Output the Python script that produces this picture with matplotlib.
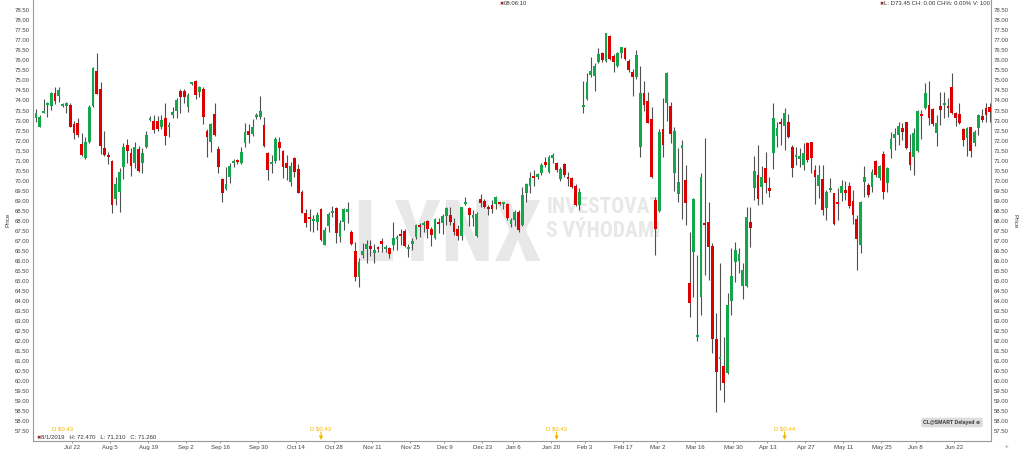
import numpy as np
import pandas as pd
import matplotlib
matplotlib.use("Agg")
import matplotlib.pyplot as plt
from matplotlib import font_manager as fm
from matplotlib.transforms import blended_transform_factory

# ---------------- data (daily OHLC) ----------------
opens = [
    73.11, 72.69, 73.40, 73.76, 73.72, 74.39, 74.22, 73.70, 73.72, 73.76,
    72.83, 72.86, 71.83, 71.13, 71.94, 73.72, 75.49, 74.59, 71.61, 71.28,
    70.98, 69.07, 69.45, 70.70, 71.80, 71.40, 70.86, 71.56, 70.86, 71.70,
    73.02, 72.96, 72.96, 72.66, 73.11, 72.66, 73.28, 73.49, 74.49, 74.49,
    73.66, 74.84, 74.99, 74.42, 74.57, 72.49, 71.94, 73.33, 71.56, 70.06,
    69.56, 70.20, 70.89, 71.00, 70.86, 71.90, 72.49, 72.31, 73.16, 73.16,
    72.78, 71.40, 70.81, 70.96, 71.94, 71.49, 70.86, 69.95, 71.11, 70.56,
    69.45, 68.37, 68.14, 67.97, 67.95, 68.57, 66.79, 67.74, 68.38, 68.65,
    67.17, 67.95, 68.44, 67.45, 66.51, 65.18, 66.29, 66.57, 66.74, 66.41,
    66.67, 67.00, 66.60, 66.62, 66.79, 67.10, 67.26, 67.50, 66.57, 66.84,
    67.20, 67.79, 67.77, 68.00, 67.57, 67.12, 67.89, 67.87, 68.24, 68.29,
    67.90, 67.57, 67.24, 68.85, 68.62, 68.12, 67.24, 69.07, 69.00, 68.67,
    68.79, 68.84, 68.89, 68.82, 68.84, 67.84, 68.04, 68.45, 67.79, 69.40,
    69.74, 70.19, 70.17, 70.37, 70.95, 70.45, 71.12, 70.87, 70.07, 70.84,
    70.14, 70.12, 69.74, 68.79, 73.66, 74.06, 75.28, 75.22, 75.94, 76.39,
    75.99, 77.22, 76.22, 75.72, 76.39, 76.61, 75.99, 75.44, 75.19, 71.70,
    74.39, 73.99, 73.06, 69.04, 68.50, 72.56, 73.89, 73.73, 70.37, 69.34,
    71.61, 70.03, 64.91, 66.46, 62.18, 64.21, 67.81, 67.95, 66.74, 62.08,
    61.12, 60.75, 60.39, 64.01, 65.96, 66.00, 64.74, 64.74, 67.95, 69.62,
    70.28, 69.66, 70.61, 69.61, 71.36, 72.23, 72.88, 72.72, 72.94, 71.69,
    71.18, 71.06, 70.78, 71.89, 71.94, 70.53, 69.73, 70.06, 68.62, 69.51,
    69.36, 68.85, 69.36, 69.53, 69.73, 69.00, 68.07, 66.79, 69.95, 69.78,
    69.70, 70.99, 70.11, 71.33, 69.86, 71.56, 72.11, 72.28, 72.61, 72.94,
    71.45, 71.16, 71.49, 73.30, 73.61, 73.77, 73.56, 72.39, 73.73, 73.78,
    73.73, 74.69, 73.39, 73.33, 72.56, 72.11, 72.66, 71.86, 72.61, 73.23,
    73.61, 73.69,
]
highs = [
    73.56, 73.28, 74.06, 73.94, 74.44, 74.66, 74.66, 73.86, 73.94, 73.86,
    73.00, 73.11, 72.36, 72.19, 73.77, 75.69, 76.39, 74.94, 72.47, 71.45,
    71.03, 70.20, 70.61, 71.86, 72.06, 71.65, 71.91, 71.74, 71.61, 72.49,
    73.23, 73.28, 73.23, 73.28, 73.86, 72.94, 73.66, 74.10, 74.56, 74.56,
    74.39, 74.94, 75.02, 74.72, 74.66, 72.56, 72.86, 73.86, 71.73, 70.11,
    70.70, 70.86, 71.06, 71.10, 71.70, 72.90, 72.83, 73.06, 73.36, 74.24,
    73.19, 71.44, 71.28, 72.16, 72.19, 71.53, 71.28, 70.94, 71.19, 70.81,
    69.53, 68.57, 68.60, 68.29, 68.45, 68.62, 67.70, 68.45, 68.74, 68.70,
    68.04, 68.62, 68.95, 67.54, 66.96, 66.12, 66.87, 67.04, 67.04, 66.84,
    66.74, 67.12, 66.79, 66.71, 67.95, 67.29, 67.57, 67.57, 66.84, 67.12,
    67.84, 67.87, 68.00, 68.04, 67.67, 68.12, 68.12, 68.34, 68.70, 68.70,
    68.12, 67.79, 68.70, 69.20, 68.67, 68.54, 68.45, 69.33, 69.07, 68.79,
    69.04, 69.24, 68.95, 68.95, 68.90, 68.12, 68.54, 68.54, 69.67, 69.90,
    70.45, 70.54, 70.40, 70.87, 71.17, 71.29, 71.40, 70.95, 70.70, 70.90,
    70.45, 70.20, 69.84, 69.62, 74.95, 75.39, 76.19, 75.86, 76.60, 76.44,
    77.39, 77.27, 76.32, 76.44, 76.69, 76.69, 76.06, 75.56, 76.52, 75.72,
    74.99, 74.44, 73.69, 69.20, 72.56, 74.11, 75.44, 73.94, 72.66, 71.61,
    72.03, 70.78, 67.46, 69.12, 66.29, 70.40, 72.11, 68.95, 66.87, 63.41,
    65.88, 62.21, 64.38, 66.62, 66.96, 66.62, 65.88, 68.70, 68.70, 71.23,
    71.78, 70.73, 71.45, 70.20, 73.89, 72.94, 73.11, 73.61, 73.33, 71.78,
    71.69, 71.61, 71.86, 71.94, 71.94, 70.78, 70.78, 70.78, 69.53, 70.11,
    69.36, 69.61, 70.03, 70.00, 69.95, 69.53, 68.28, 69.00, 70.73, 69.86,
    70.56, 71.03, 70.78, 71.49, 70.66, 72.44, 72.61, 72.94, 72.89, 72.94,
    72.33, 72.61, 73.52, 73.52, 74.89, 74.99, 73.61, 73.28, 74.44, 74.44,
    74.11, 75.39, 73.44, 73.86, 72.61, 72.69, 72.69, 72.53, 73.33, 73.56,
    73.89, 73.89,
]
lows = [
    72.94, 72.66, 73.36, 73.16, 73.52, 73.82, 73.94, 73.66, 73.39, 72.66,
    72.06, 72.16, 71.23, 71.10, 71.90, 73.69, 74.32, 71.33, 71.21, 70.83,
    68.37, 68.78, 68.45, 70.06, 70.90, 70.23, 70.61, 70.45, 70.40, 71.61,
    72.96, 72.39, 72.48, 72.56, 71.78, 72.19, 73.11, 73.11, 73.36, 73.86,
    73.44, 74.78, 74.06, 74.19, 72.83, 71.20, 71.44, 72.23, 70.36, 68.95,
    69.53, 69.86, 70.70, 70.83, 70.83, 71.70, 71.86, 72.23, 73.06, 73.06,
    71.70, 70.03, 70.40, 70.90, 71.03, 70.11, 70.03, 69.73, 70.20, 69.37,
    68.37, 67.70, 67.50, 67.45, 67.54, 67.00, 66.79, 67.45, 68.20, 66.91,
    66.95, 67.54, 67.90, 66.79, 65.01, 64.71, 66.12, 65.91, 66.24, 65.91,
    66.46, 66.46, 66.46, 66.12, 66.54, 66.54, 66.79, 66.67, 66.21, 66.54,
    67.07, 67.20, 67.46, 67.12, 66.74, 67.07, 67.37, 67.34, 67.79, 67.79,
    67.29, 67.04, 67.04, 68.79, 67.74, 67.74, 67.20, 68.70, 68.62, 68.29,
    68.37, 68.57, 68.80, 68.57, 68.04, 67.70, 67.74, 67.46, 67.74, 68.95,
    69.40, 69.74, 70.07, 70.29, 70.70, 70.40, 70.87, 70.45, 70.00, 70.20,
    69.74, 69.62, 68.74, 68.54, 73.36, 74.04, 75.19, 74.49, 75.89, 75.94,
    75.94, 76.02, 75.44, 75.69, 76.11, 76.02, 75.44, 74.23, 75.06, 71.17,
    73.49, 72.86, 70.12, 66.29, 68.45, 71.20, 73.00, 71.86, 69.50, 68.95,
    68.07, 67.79, 63.18, 64.21, 62.02, 63.30, 65.29, 65.04, 61.38, 58.47,
    59.56, 58.97, 60.35, 63.30, 64.96, 65.38, 64.08, 64.71, 66.71, 69.04,
    68.79, 68.83, 69.40, 69.20, 70.56, 71.69, 71.78, 71.53, 72.11, 70.20,
    70.78, 70.70, 70.53, 70.94, 70.40, 68.83, 69.12, 68.28, 68.03, 69.45,
    67.79, 68.03, 69.00, 69.03, 68.62, 67.84, 65.54, 66.37, 69.17, 69.17,
    69.45, 70.20, 70.03, 69.06, 69.45, 71.11, 71.53, 71.78, 72.03, 71.56,
    70.53, 70.28, 71.45, 72.06, 73.56, 72.78, 72.73, 71.73, 72.78, 73.11,
    73.19, 73.33, 72.73, 72.83, 71.73, 71.23, 71.20, 71.73, 72.28, 72.94,
    72.94, 72.94,
]
closes = [
    73.36, 73.16, 73.46, 73.89, 74.36, 73.99, 74.52, 73.74, 73.86, 72.69,
    72.36, 72.28, 71.26, 71.94, 73.69, 75.60, 74.32, 71.74, 71.26, 71.16,
    68.78, 69.83, 70.43, 71.70, 71.50, 70.75, 71.70, 70.50, 71.36, 72.26,
    73.08, 72.53, 72.59, 73.03, 72.23, 72.78, 73.43, 74.02, 74.19, 74.19,
    74.26, 74.88, 74.27, 74.66, 73.19, 72.16, 72.83, 72.28, 70.70, 69.40,
    69.83, 70.73, 70.93, 70.93, 71.44, 72.44, 72.26, 72.66, 73.28, 73.48,
    71.73, 70.53, 70.86, 72.06, 71.61, 70.70, 70.65, 70.73, 70.44, 69.40,
    68.40, 67.87, 68.10, 68.03, 68.29, 67.04, 67.54, 68.34, 68.42, 67.37,
    67.90, 68.57, 68.57, 66.84, 65.21, 65.96, 66.51, 66.84, 66.57, 66.54,
    66.57, 66.84, 66.64, 66.34, 67.12, 67.14, 67.22, 66.74, 66.71, 67.00,
    67.79, 67.67, 67.81, 67.57, 67.29, 68.07, 67.85, 68.24, 68.62, 67.95,
    67.45, 67.24, 68.67, 68.89, 68.29, 68.29, 68.34, 68.87, 68.70, 68.57,
    68.57, 69.17, 68.85, 68.86, 68.12, 68.04, 68.45, 67.54, 69.29, 69.84,
    70.12, 70.15, 70.34, 70.79, 70.79, 71.17, 71.29, 70.54, 70.57, 70.29,
    70.10, 69.70, 68.79, 69.45, 73.78, 74.94, 75.45, 75.72, 76.32, 76.02,
    77.35, 76.06, 75.94, 76.36, 76.66, 76.06, 75.52, 75.16, 76.27, 74.39,
    73.78, 72.90, 70.17, 67.57, 72.45, 71.78, 75.39, 72.33, 72.50, 69.95,
    71.78, 68.90, 63.88, 69.07, 62.30, 70.17, 67.77, 66.67, 62.08, 60.47,
    61.16, 59.89, 63.80, 65.24, 66.54, 66.34, 65.54, 68.17, 67.62, 70.50,
    69.07, 70.20, 69.90, 69.50, 73.11, 72.61, 72.84, 73.39, 72.16, 70.61,
    71.22, 71.23, 71.39, 71.03, 71.11, 70.20, 70.28, 68.53, 69.45, 69.55,
    67.84, 68.81, 69.73, 69.36, 68.73, 68.28, 67.07, 68.95, 70.20, 69.28,
    70.45, 70.28, 70.73, 69.45, 70.61, 72.09, 72.33, 72.73, 72.44, 71.61,
    70.78, 72.39, 73.49, 73.23, 74.36, 73.11, 72.83, 72.86, 73.52, 73.86,
    73.61, 73.36, 73.11, 72.89, 72.03, 72.61, 71.49, 72.44, 73.28, 73.03,
    73.28, 73.45,
]
holidays = ["2019-09-02", "2019-11-28", "2019-12-25", "2020-01-01",
            "2020-01-20", "2020-02-17", "2020-04-10", "2020-05-25"]
tick_start, tick_end = "2019-07-22", "2020-06-22"
div_dates = ["2019-07-17", "2019-10-22", "2020-01-22", "2020-04-17"]
div_labels = ["D $0.43", "D $0.43", "D $0.43", "D $0.44"]
div_arrow = [False, True, True, True]
hover_text = "8/1/2019   H: 72.470   L: 71.210   C: 71.260"
clock_text = "08:06:10"
last_text = "L: D73.45 CH: 0.00 CH%: 0.00% V: 100"

# ---------------- derived ----------------
o = np.array(opens); h = np.array(highs); l = np.array(lows); c = np.array(closes)
n = len(o)
dates = pd.bdate_range("2019-07-08", "2020-07-10")
dates = dates[~dates.isin(pd.to_datetime(holidays))][:n]
xs = np.arange(n)
tick_dates = pd.date_range(tick_start, tick_end, freq="14D")
tick_idx = dates.searchsorted(tick_dates)
tick_labels = [f"{d:%b} {d.day}" for d in tick_dates]
div_idx = dates.searchsorted(pd.to_datetime(div_dates))

GREEN = "#13a64a"
RED = "#dc0000"
WICK = "#505050"
FONT = ["Liberation Sans", "DejaVu Sans"]
plt.rcParams["font.family"] = FONT
FS = 4.3

names = {f.name for f in fm.fontManager.ttflist}
narrow = [nm for nm in ["Liberation Sans Narrow", "Roboto Condensed",
                        "Open Sans Condensed"] if nm in names]
WM_FAMILY = narrow + ["Liberation Sans", "DejaVu Sans"]
wm_scale = 1.0 if narrow else 0.86

W, H = 1024, 454
fig = plt.figure(figsize=(W / 100, H / 100), dpi=100)
fig.patch.set_facecolor("white")
L0, R0, B0 = 33, 990.7, 441
ax = fig.add_axes([L0 / W, (H - B0) / H, (R0 - L0) / W, B0 / H])
ax.set_facecolor("white")

def fy(py):
    return (B0 - py) / B0

# watermark
wm = "#e8e8e8"
ax.text(0.433, fy(261), "LYNX", transform=ax.transAxes, ha="center", va="baseline",
        fontsize=62 * wm_scale, fontweight="bold", color=wm, zorder=0, family=WM_FAMILY)
ax.text(0.536, fy(213), "INVESTOVAT", transform=ax.transAxes, ha="left", va="baseline",
        fontsize=15.5 * wm_scale, fontweight="bold", color=wm, zorder=0, family=WM_FAMILY)
ax.text(0.536, fy(237), "S VÝHODAMI", transform=ax.transAxes, ha="left", va="baseline",
        fontsize=15.5 * wm_scale, fontweight="bold", color=wm, zorder=0, family=WM_FAMILY)

# candles
up = c >= o
colors = np.where(up, GREEN, RED)
ax.vlines(xs, l, h, color=WICK, lw=0.8, zorder=2)
body_b = np.minimum(o, c)
body_h = np.maximum(np.abs(c - o), 0.1)
ax.bar(xs, body_h, bottom=body_b, width=0.72, color=colors, linewidth=0, zorder=3)

ax.set_xlim(-0.79, 251.24)
ax.set_ylim(57.008, 79.014)

yt = np.arange(57.5, 78.51, 0.5)
ax.set_yticks(yt)
ax.set_yticklabels([f"{v:.2f}" for v in yt])
ax.tick_params(axis="y", left=False, right=False, labelleft=True, labelright=True,
               length=0, pad=2.4, labelsize=FS, labelcolor="#444444")
ax.set_xticks(tick_idx - 0.5)
ax.set_xticklabels(tick_labels)
ax.tick_params(axis="x", length=1.5, width=0.6, pad=1.2, labelsize=FS,
               colors="#888888", labelcolor="#444444")
for s in ["left", "right", "bottom"]:
    ax.spines[s].set_color("#9a9a9a")
    ax.spines[s].set_linewidth(0.8)
ax.spines["top"].set_visible(False)

# dividends
tr = blended_transform_factory(ax.transData, ax.transAxes)
GOLD = "#f2b705"
for i, lab, arr in zip(div_idx, div_labels, div_arrow):
    ax.text(i, fy(429), lab, transform=tr, ha="center", va="center",
            fontsize=FS, color=GOLD, zorder=5)
    if arr:
        ax.annotate("", xy=(i, fy(440)), xytext=(i, fy(432)), xycoords=tr, textcoords=tr,
                    arrowprops=dict(arrowstyle="-|>", color=GOLD, lw=0.8,
                                    mutation_scale=5, shrinkA=0, shrinkB=0), zorder=5)

# hover info
fig.text(37 / W, 1 - 437.7 / H, "✖", fontsize=3.8, color="#8b1c1c", va="center",
         ha="left", family=["DejaVu Sans"])
fig.text(41 / W, 1 - 437.7 / H, hover_text, fontsize=FS, color="#333333",
         va="center", ha="left")

# top texts
fig.text(500 / W, 1 - 3.5 / H, "✖", fontsize=3.6, color="#8b1c1c", va="center",
         ha="left", family=["DejaVu Sans"])
fig.text(504 / W, 1 - 3.5 / H, clock_text, fontsize=FS, color="#333333",
         va="center", ha="left")
fig.text(880 / W, 1 - 3.5 / H, "✖", fontsize=3.6, color="#8b1c1c", va="center",
         ha="left", family=["DejaVu Sans"])
fig.text(884 / W, 1 - 3.5 / H, last_text, fontsize=FS, color="#333333",
         va="center", ha="left")

# Price labels
fig.text(8 / W, 1 - 220 / H, "Price", rotation=90, fontsize=4.6, color="#444444",
         va="center", ha="center")
fig.text(1015.5 / W, 1 - 221 / H, "Price", rotation=270, fontsize=4.6, color="#444444",
         va="center", ha="center")

# data source box
fig.text(952 / W, 1 - 422.5 / H, "CL@SMART Delayed ⊕", fontsize=3.7, color="#333333",
         fontweight="bold", va="center", ha="center",
         family=["Liberation Sans", "DejaVu Sans"],
         bbox=dict(boxstyle="round,pad=0.45", facecolor="#dcdcdc", edgecolor="none"))
fig.text(1007 / W, 1 - 447 / H, "+", fontsize=4.5, color="#777777", va="center", ha="center")

fig.savefig("out.png", dpi=100, facecolor="white")
